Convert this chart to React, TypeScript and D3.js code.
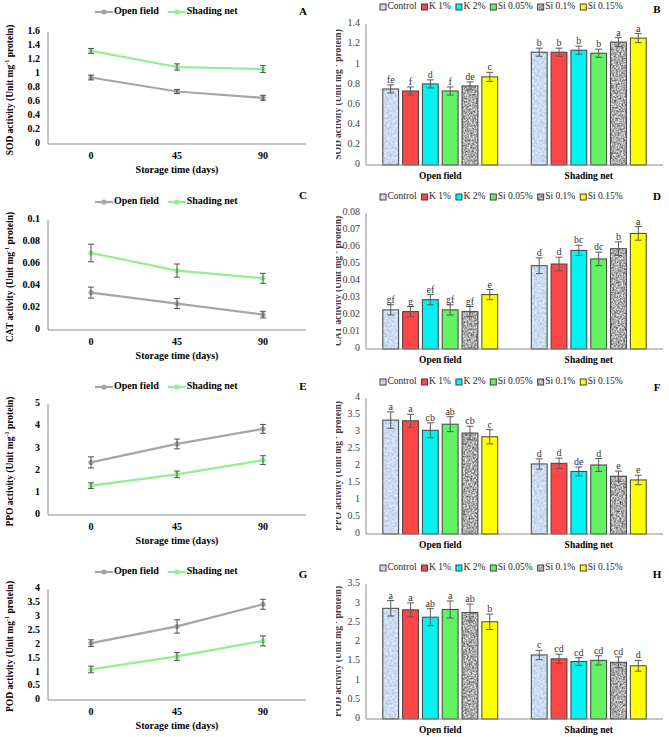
import React from "react";
import * as d3 from "d3";

const W = 669;
const H = 737;
const FONT = "'Liberation Serif','Times New Roman',serif";

// ---------- categories ----------
const days = ["0", "45", "90"];
const lineSeries = ["Open field", "Shading net"];
const treatments = ["Control", "K 1%", "K 2%", "Si 0.05%", "Si 0.1%", "Si 0.15%"];
const sites = ["Open field", "Shading net"];

// ---------- SOD ----------
const sodLineTicks = [0, 0.2, 0.4, 0.6, 0.8, 1, 1.2, 1.4, 1.6];
const sodOpen = [0.95, 0.75, 0.66];
const sodOpenErr = [0.035, 0.03, 0.035];
const sodShade = [1.33, 1.1, 1.07];
const sodShadeErr = [0.035, 0.045, 0.05];
const sodBarTicks = [0, 0.2, 0.4, 0.6, 0.8, 1, 1.2, 1.4];
const sodBarOpen = [0.755, 0.735, 0.805, 0.735, 0.785, 0.875];
const sodBarOpenErr = [0.04, 0.04, 0.04, 0.04, 0.04, 0.045];
const sodBarShade = [1.12, 1.12, 1.14, 1.11, 1.22, 1.26];
const sodBarShadeErr = [0.04, 0.04, 0.04, 0.04, 0.045, 0.045];
const sodLetOpen = ["fe", "f", "d", "f", "de", "c"];
const sodLetShade = ["b", "b", "b", "b", "a", "a"];

// ---------- CAT ----------
const catLineTicks = [0, 0.02, 0.04, 0.06, 0.08, 0.1];
const catOpen = [0.034, 0.024, 0.014];
const catOpenErr = [0.005, 0.0045, 0.003];
const catShade = [0.07, 0.054, 0.047];
const catShadeErr = [0.008, 0.006, 0.0045];
const catBarTicks = [0, 0.01, 0.02, 0.03, 0.04, 0.05, 0.06, 0.07, 0.08];
const catBarOpen = [0.023, 0.022, 0.029, 0.023, 0.022, 0.032];
const catBarOpenErr = [0.003, 0.003, 0.003, 0.003, 0.003, 0.003];
const catBarShade = [0.049, 0.05, 0.058, 0.053, 0.059, 0.068];
const catBarShadeErr = [0.0046, 0.004, 0.003, 0.004, 0.004, 0.004];
const catLetOpen = ["gf", "g", "ef", "gf", "gf", "e"];
const catLetShade = ["d", "d", "bc", "dc", "b", "a"];

// ---------- PPO ----------
const ppoLineTicks = [0, 1, 2, 3, 4, 5];
const ppoOpen = [2.37, 3.2, 3.88];
const ppoOpenErr = [0.25, 0.22, 0.2];
const ppoShade = [1.32, 1.83, 2.47];
const ppoShadeErr = [0.13, 0.15, 0.2];
const ppoBarTicks = [0, 0.5, 1, 1.5, 2, 2.5, 3, 3.5, 4];
const ppoBarOpen = [3.35, 3.33, 3.05, 3.23, 2.97, 2.86];
const ppoBarOpenErr = [0.24, 0.19, 0.22, 0.22, 0.2, 0.21];
const ppoBarShade = [2.06, 2.08, 1.84, 2.03, 1.7, 1.59];
const ppoBarShadeErr = [0.15, 0.15, 0.13, 0.19, 0.15, 0.14];
const ppoLetOpen = ["a", "a", "cb", "ab", "cb", "c"];
const ppoLetShade = ["d", "d", "de", "d", "e", "e"];

// ---------- POD ----------
const podLineTicks = [0, 0.5, 1, 1.5, 2, 2.5, 3, 3.5, 4];
const podOpen = [2.05, 2.65, 3.45];
const podOpenErr = [0.12, 0.24, 0.18];
const podShade = [1.1, 1.57, 2.13];
const podShadeErr = [0.12, 0.14, 0.18];
const podBarTicks = [0, 0.5, 1, 1.5, 2, 2.5, 3, 3.5];
const podBarOpen = [2.87, 2.83, 2.64, 2.84, 2.76, 2.52];
const podBarOpenErr = [0.2, 0.18, 0.22, 0.22, 0.22, 0.2];
const podBarShade = [1.66, 1.56, 1.49, 1.52, 1.47, 1.38];
const podBarShadeErr = [0.12, 0.12, 0.1, 0.12, 0.14, 0.14];
const podLetOpen = ["a", "a", "ab", "a", "ab", "b"];
const podLetShade = ["c", "cd", "cd", "cd", "cd", "d"];

const enzymes = ["SOD", "CAT", "PPO", "POD"];
const lineLetters = ["A", "C", "E", "G"];
const barLetters = ["B", "D", "F", "H"];

// ---------- styles ----------
const lineColors: Record<string, string> = { "Open field": "#a6a6a6", "Shading net": "#90f090" };
const texture: Record<string, string | undefined> = {
  Control: "fBlue",
  "Si 0.1%": "fGray",
};
const baseFill: Record<string, string> = {
  Control: "#c8d9f1",
  "K 1%": "#ff4646",
  "K 2%": "#00f2f2",
  "Si 0.05%": "#62f262",
  "Si 0.1%": "#9a9a9a",
  "Si 0.15%": "#ffff00",
};

// layout per row
const leftLayout = [
  { legend: 12, top: 32, zero: 144, letter: 12 },
  { legend: 202, top: 220, zero: 330, letter: 196 },
  { legend: 387, top: 404, zero: 515, letter: 387 },
  { legend: 572, top: 589, zero: 700, letter: 575 },
];
const rightLayout = [
  { legend: 7, top: 24, zero: 165, letter: 10 },
  { legend: 197, top: 213, zero: 349, letter: 197 },
  { legend: 382, top: 398, zero: 534, letter: 388 },
  { legend: 568, top: 584, zero: 719, letter: 575 },
];

const lineData = [
  { ticks: sodLineTicks, vals: [sodOpen, sodShade], errs: [sodOpenErr, sodShadeErr] },
  { ticks: catLineTicks, vals: [catOpen, catShade], errs: [catOpenErr, catShadeErr] },
  { ticks: ppoLineTicks, vals: [ppoOpen, ppoShade], errs: [ppoOpenErr, ppoShadeErr] },
  { ticks: podLineTicks, vals: [podOpen, podShade], errs: [podOpenErr, podShadeErr] },
];
const barData = [
  { ticks: sodBarTicks, vals: [sodBarOpen, sodBarShade], errs: [sodBarOpenErr, sodBarShadeErr], lets: [sodLetOpen, sodLetShade] },
  { ticks: catBarTicks, vals: [catBarOpen, catBarShade], errs: [catBarOpenErr, catBarShadeErr], lets: [catLetOpen, catLetShade] },
  { ticks: ppoBarTicks, vals: [ppoBarOpen, ppoBarShade], errs: [ppoBarOpenErr, ppoBarShadeErr], lets: [ppoLetOpen, ppoLetShade] },
  { ticks: podBarTicks, vals: [podBarOpen, podBarShade], errs: [podBarOpenErr, podBarShadeErr], lets: [podLetOpen, podLetShade] },
];

let ctx: CanvasRenderingContext2D | null = null;
function measure(t: string, font: string) {
  if (!ctx) ctx = document.createElement("canvas").getContext("2d");
  if (!ctx) return t.length * 5;
  ctx.font = font;
  return ctx.measureText(t).width;
}

const fmt = (v: number) => String(+v.toFixed(4));

function YTitle({ x, y, enzyme, bold, size, fill }: any) {
  return (
    <text
      transform={`translate(${x},${y}) rotate(-90)`}
      textAnchor="middle"
      dominantBaseline="middle"
      fontWeight={bold ? "bold" : "normal"}
      fontSize={size}
      fill={fill}
    >
      {enzyme} activity (Unit mg
      <tspan dy={-3.5} fontSize={size * 0.65}>
        -1
      </tspan>
      <tspan dy={3.5}> protein)</tspan>
    </text>
  );
}

function LinePanel({ i }: { i: number }) {
  const L = leftLayout[i];
  const d = lineData[i];
  const x = d3.scaleBand().domain(days).range([48, 306]);
  const cx = (k: string) => (x(k) as number) + x.bandwidth() / 2;
  const y = d3.scaleLinear().domain([0, d3.max(d.ticks) as number]).range([L.zero, L.top]);
  const line = d3
    .line<number>()
    .x((_, j) => cx(days[j]))
    .y((v) => y(v));
  const lf = "bold 10px 'Liberation Serif'";
  let lx = 95;
  const legendItems = lineSeries.map((s) => {
    const item = { s, x: lx };
    lx += 19 + measure(s, lf) + 9;
    return item;
  });
  return (
    <g>
      {legendItems.map((it) => (
        <g key={it.s}>
          <line x1={it.x} x2={it.x + 18} y1={L.legend} y2={L.legend} stroke={lineColors[it.s]} strokeWidth={2.25} />
          <circle cx={it.x + 9} cy={L.legend} r={2.6} fill={lineColors[it.s]} />
          <text x={it.x + 19} y={L.legend} dominantBaseline="middle" fontWeight="bold" fontSize={10}>
            {it.s}
          </text>
        </g>
      ))}
      <text x={303} y={L.letter} textAnchor="middle" dominantBaseline="middle" fontWeight="bold" fontSize={11}>
        {lineLetters[i]}
      </text>
      <line x1={48} x2={48} y1={L.top} y2={L.zero} stroke="#8c8c8c" strokeWidth={1} />
      <line x1={48} x2={306} y1={L.zero} y2={L.zero} stroke="#8c8c8c" strokeWidth={1} />
      {d.ticks.map((t) => (
        <text key={t} x={40} y={y(t)} textAnchor="end" dominantBaseline="middle" fontWeight="bold" fontSize={10}>
          {fmt(t)}
        </text>
      ))}
      {days.map((k) => (
        <text key={k} x={cx(k)} y={L.zero + 13} textAnchor="middle" dominantBaseline="middle" fontWeight="bold" fontSize={10}>
          {k}
        </text>
      ))}
      <text x={177} y={L.zero + 27} textAnchor="middle" dominantBaseline="middle" fontWeight="bold" fontSize={10}>
        Storage time (days)
      </text>
      <YTitle x={11} y={(L.top + L.zero) / 2 + 2} enzyme={enzymes[i]} bold size={9.5} fill="#000" />
      {lineSeries.map((s, si) => (
        <g key={s}>
          <path d={line(d.vals[si]) as string} fill="none" stroke={lineColors[s]} strokeWidth={2.25} />
          {d.vals[si].map((v, j) => (
            <g key={j}>
              <circle cx={cx(days[j])} cy={y(v)} r={2.6} fill={lineColors[s]} />
              <g stroke="#404040" strokeWidth={0.9}>
                <line x1={cx(days[j])} x2={cx(days[j])} y1={y(v - d.errs[si][j])} y2={y(v + d.errs[si][j])} />
                <line x1={cx(days[j]) - 3} x2={cx(days[j]) + 3} y1={y(v - d.errs[si][j])} y2={y(v - d.errs[si][j])} />
                <line x1={cx(days[j]) - 3} x2={cx(days[j]) + 3} y1={y(v + d.errs[si][j])} y2={y(v + d.errs[si][j])} />
              </g>
            </g>
          ))}
        </g>
      ))}
    </g>
  );
}

function Swatch({ t, x, y, w, h }: any) {
  const f = texture[t];
  return (
    <g>
      <rect x={x} y={y} width={w} height={h} fill={baseFill[t]} filter={f ? `url(#${f})` : undefined} />
      <rect x={x} y={y} width={w} height={h} fill="none" stroke="#404040" strokeWidth={1} />
    </g>
  );
}

function BarPanel({ i }: { i: number }) {
  const L = rightLayout[i];
  const d = barData[i];
  const x0 = d3.scaleBand().domain(sites).range([366, 663]).paddingInner(0.226).paddingOuter(0.113);
  const x1 = d3.scaleBand().domain(treatments).range([0, x0.bandwidth()]).paddingInner(0.2);
  const y = d3.scaleLinear().domain([0, d3.max(d.ticks) as number]).range([L.zero, L.top]);
  const lf = "9.5px 'Liberation Serif'";
  let lx = 380;
  const legendItems = treatments.map((t) => {
    const it = { t, x: lx };
    lx += 7 + measure(t, lf) + 5.5;
    return it;
  });
  return (
    <g>
      {legendItems.map((it) => (
        <g key={it.t}>
          <Swatch t={it.t} x={it.x} y={L.legend - 3} w={6} h={6} />
          <text x={it.x + 7.5} y={L.legend} dominantBaseline="middle" fontSize={9.5} fill="#262626">
            {it.t}
          </text>
        </g>
      ))}
      <text x={657} y={L.letter} textAnchor="middle" dominantBaseline="middle" fontWeight="bold" fontSize={11}>
        {barLetters[i]}
      </text>
      <line x1={366} x2={366} y1={L.top} y2={L.zero} stroke="#8c8c8c" strokeWidth={1} />
      {d.ticks.map((t) => (
        <text key={t} x={360} y={y(t)} textAnchor="end" dominantBaseline="middle" fontSize={10} fill="#404040">
          {fmt(t)}
        </text>
      ))}
      <g clipPath="url(#clipRight)">
        <YTitle x={339} y={(L.top + L.zero) / 2} enzyme={enzymes[i]} bold size={9.5} fill="#404040" />
      </g>
      {sites.map((s, si) => {
        const gx = x0(s) as number;
        return (
          <g key={s}>
            {treatments.map((t, ti) => {
              const bx = gx + (x1(t) as number);
              const bw = x1.bandwidth();
              const v = d.vals[si][ti];
              const e = d.errs[si][ti];
              const c = bx + bw / 2;
              return (
                <g key={t}>
                  <Swatch t={t} x={bx} y={y(v)} w={bw} h={y(0) - y(v)} />
                  <g stroke="#595959" strokeWidth={1}>
                    <line x1={c} x2={c} y1={y(v - e)} y2={y(v + e)} />
                    <line x1={c - 3.5} x2={c + 3.5} y1={y(v - e)} y2={y(v - e)} />
                    <line x1={c - 3.5} x2={c + 3.5} y1={y(v + e)} y2={y(v + e)} />
                  </g>
                  <text x={c} y={y(v + e) - 2} textAnchor="middle" fontSize={10} fill="#333">
                    {d.lets[si][ti]}
                  </text>
                </g>
              );
            })}
            <text
              x={gx + x0.bandwidth() / 2}
              y={L.zero + 12}
              textAnchor="middle"
              dominantBaseline="middle"
              fontWeight="bold"
              fontSize={9.5}
            >
              {s}
            </text>
          </g>
        );
      })}
      <line x1={366} x2={663} y1={L.zero} y2={L.zero} stroke="#8c8c8c" strokeWidth={1} />
    </g>
  );
}

export default function App() {
  return (
    <svg
      width={W}
      height={H}
      viewBox={`0 0 ${W} ${H}`}
      style={{ position: "absolute", left: 0, top: 0, display: "block", background: "#fff" }}
      fontFamily={FONT}
    >
      <defs>
        <filter id="fGray" colorInterpolationFilters="sRGB">
          <feTurbulence type="fractalNoise" baseFrequency="0.55" numOctaves={2} seed={4} result="t" />
          <feColorMatrix
            in="t"
            type="matrix"
            values="1 0 0 0 0.17  1 0 0 0 0.17  1 0 0 0 0.17  0 0 0 0 1"
            result="g"
          />
          <feComposite in="g" in2="SourceGraphic" operator="in" />
        </filter>
        <filter id="fBlue" colorInterpolationFilters="sRGB">
          <feTurbulence type="fractalNoise" baseFrequency="0.4" numOctaves={2} seed={7} result="t" />
          <feColorMatrix
            in="t"
            type="matrix"
            values="0.35 0 0 0 0.62  0.3 0 0 0 0.71  0.15 0 0 0 0.87  0 0 0 0 1"
            result="g"
          />
          <feComposite in="g" in2="SourceGraphic" operator="in" />
        </filter>
        <clipPath id="clipRight">
          <rect x={336} y={0} width={333} height={H} />
        </clipPath>
      </defs>
      <rect x={0} y={0} width={W} height={H} fill="#fff" />
      {[0, 1, 2, 3].map((i) => (
        <g key={i}>
          <LinePanel i={i} />
          <BarPanel i={i} />
        </g>
      ))}
    </svg>
  );
}
